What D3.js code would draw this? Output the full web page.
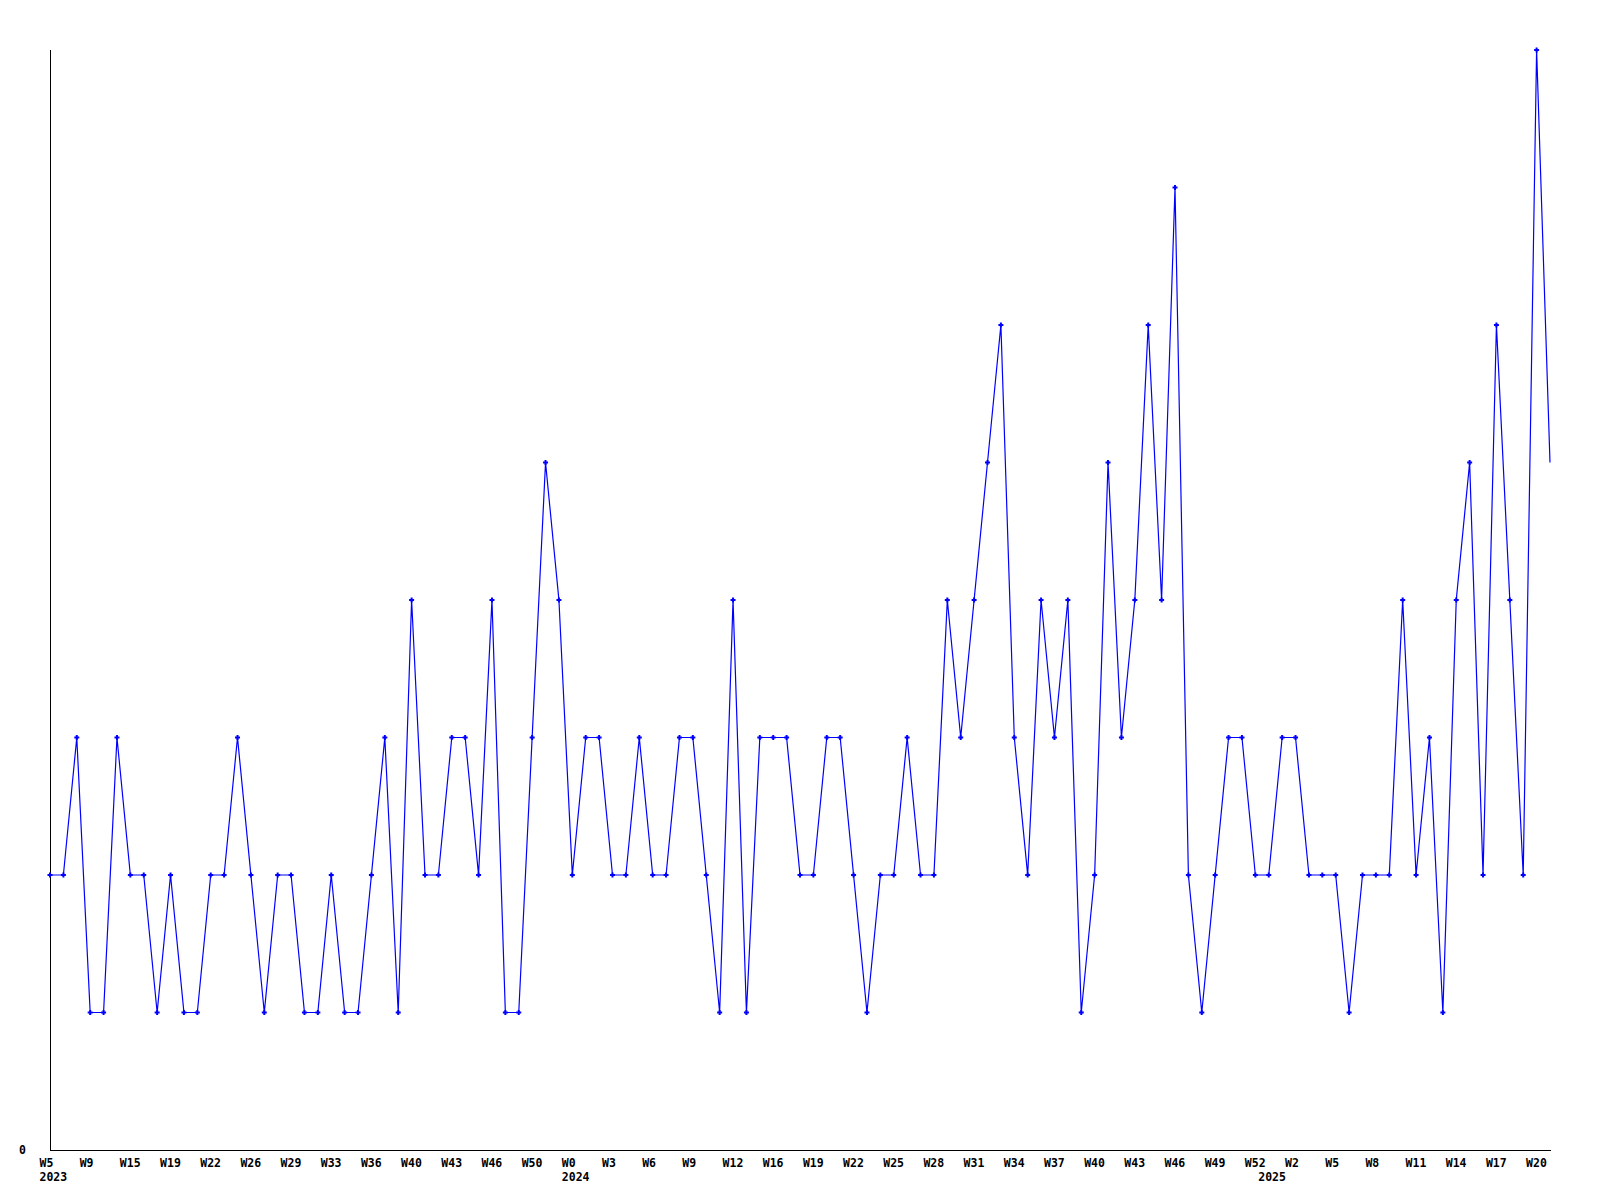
<!DOCTYPE html>
<html>
<head>
<meta charset="utf-8">
<script src="https://cdn.jsdelivr.net/npm/d3@7"></script>
<style>
  html, body { margin: 0; padding: 0; background: #ffffff; }
  svg { display: block; }
  text { font-family: "DejaVu Sans Mono", "Liberation Mono", monospace; font-weight: bold; font-size: 11.5px; fill: #000; }
</style>
</head>
<body>
<svg id="chart" width="1600" height="1200"></svg>
<script>
// Weekly values (one per point)
const values = [
  2,2,3,1,1,3,2,2,1,2,
  1,1,2,2,3,2,1,2,2,1,
  1,2,1,1,2,3,1,4,2,2,
  3,3,2,4,1,1,3,5,4,2,
  3,3,2,2,3,2,2,3,3,2,
  1,4,1,3,3,3,2,2,3,3,
  2,1,2,2,3,2,2,4,3,4,
  5,6,3,2,4,3,4,1,2,5,
  3,4,6,4,7,2,1,2,3,3,
  2,2,3,3,2,2,2,1,2,2,
  2,4,2,3,1,4,5,2,6,4,
  2,8,5
];
// Week tick labels, placed on every third point
const weekLabels = [
  "W5","W9","W15","W19","W22","W26","W29","W33","W36","W40","W43","W46","W50",
  "W0","W3","W6","W9","W12","W16","W19","W22","W25","W28","W31","W34","W37",
  "W40","W43","W46","W49","W52","W2","W5","W8","W11","W14","W17","W20"
];
const weekLabelStep = 3;
// Year labels and the point index where each year begins
const yearLabels = ["2023","2024","2025"];
const yearIndex = [0, 39, 91];
const yTickLabels = ["0"];
const yMax = 8;

const svg = d3.select("#chart");
const x = d3.scaleLinear().domain([0, values.length - 1]).range([50, 1550]);
const y = d3.scaleLinear().domain([0, yMax]).range([1150, 50]);

// axes lines
svg.append("line")
  .attr("x1", x(0) + 0.5).attr("x2", x(0) + 0.5)
  .attr("y1", y(yMax)).attr("y2", y(0) + 0.5)
  .attr("stroke", "#000").attr("stroke-width", 1).attr("shape-rendering", "crispEdges");
svg.append("line")
  .attr("x1", x(0)).attr("x2", x(values.length - 1) + 1)
  .attr("y1", y(0) + 0.5).attr("y2", y(0) + 0.5)
  .attr("stroke", "#000").attr("stroke-width", 1).attr("shape-rendering", "crispEdges");

// y label
svg.selectAll("text.ylab").data(yTickLabels).enter().append("text")
  .attr("class", "ylab")
  .attr("x", 19).attr("y", y(0) + 4)
  .text(d => d);

// week labels
svg.selectAll("text.wlab").data(weekLabels).enter().append("text")
  .attr("class", "wlab")
  .attr("x", (d, i) => x(i * weekLabelStep) - 10.5)
  .attr("y", 1167)
  .text(d => d);

// year labels
svg.selectAll("text.yrlab").data(yearLabels).enter().append("text")
  .attr("class", "yrlab")
  .attr("x", (d, i) => x(yearIndex[i]) - 10.5)
  .attr("y", 1181)
  .text(d => d);

// line
const line = d3.line().x((d, i) => x(i)).y(d => y(d));
svg.append("path")
  .datum(values)
  .attr("d", line)
  .attr("fill", "none")
  .attr("stroke", "#0000ff")
  .attr("stroke-width", 1.2);

// markers (small crosses)
svg.selectAll("path.mk").data(values.slice(0, values.length - 1)).enter().append("path")
  .attr("class", "mk")
  .attr("transform", (d, i) => `translate(${x(i)},${y(d)})`)
  .attr("d", "M-2.5,0H2.5M0,-2.5V2.5")
  .attr("stroke", "#0000ff")
  .attr("stroke-width", 2)
  .attr("fill", "none");
</script>
</body>
</html>
